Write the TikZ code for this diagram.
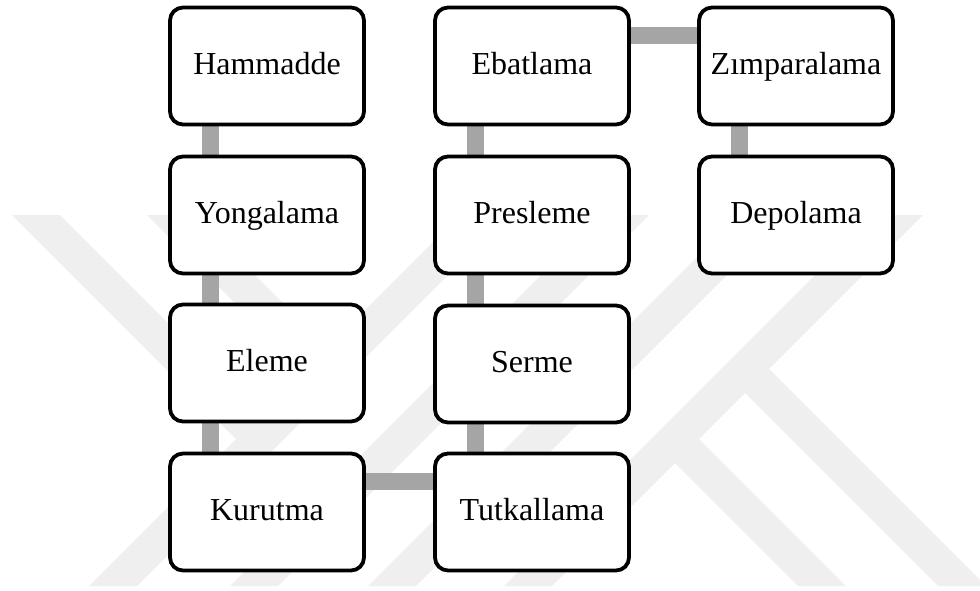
\documentclass[tikz,border=0pt]{standalone}
\usepackage{fontspec}
\setmainfont{Liberation Serif}
\definecolor{linkgray}{HTML}{A5A5A5}
\definecolor{markgray}{HTML}{EFEFEF}
\pgfdeclarelayer{mark}
\pgfdeclarelayer{links}
\pgfsetlayers{mark,links,main}
\begin{document}
\begin{tikzpicture}[x=1pt,y=-1pt,
  stage/.style={draw=black, line width=3.8pt, rounded corners=13pt, fill=white,
    minimum width=194pt, minimum height=117pt, inner sep=0pt,
    text height=23pt, text depth=7pt, font=\fontsize{32}{37}\selectfont},
  link/.style={draw=linkgray, line width=17pt},
  band/.style={fill=markgray, draw=none}]
\useasboundingbox (0,0) rectangle (980,590);

% process stages
\node[stage] (ham) at (267,66)  {Hammadde};
\node[stage] (yon) at (267,215) {Yongalama};
\node[stage] (ele) at (267,363) {Eleme};
\node[stage] (kur) at (267,512) {Kurutma};
\node[stage] (tut) at (532,512) {Tutkallama};
\node[stage] (ser) at (532,364) {Serme};
\node[stage] (pre) at (532,215) {Presleme};
\node[stage] (eba) at (532,66)  {Ebatlama};
\node[stage] (zim) at (796,66)  {Zımparalama};
\node[stage] (dep) at (796,215) {Depolama};

% grey links between consecutive stages
\begin{pgfonlayer}{links}
  \draw[link] ([xshift=42pt]ham.south west) -- ([xshift=42pt]yon.north west);
  \draw[link] ([xshift=42pt]yon.south west) -- ([xshift=42pt]ele.north west);
  \draw[link] ([xshift=42pt]ele.south west) -- ([xshift=42pt]kur.north west);
  \draw[link] ([yshift=-30pt]kur.north east) -- ([yshift=-30pt]tut.north west);
  \draw[link] ([xshift=42pt]tut.north west) -- ([xshift=42pt]ser.south west);
  \draw[link] ([xshift=42pt]ser.north west) -- ([xshift=42pt]pre.south west);
  \draw[link] ([xshift=42pt]pre.north west) -- ([xshift=42pt]eba.south west);
  \draw[link] ([yshift=-30pt]eba.north east) -- ([yshift=-30pt]zim.north west);
  \draw[link] ([xshift=42pt]zim.south west) -- ([xshift=42pt]dep.north west);
\end{pgfonlayer}

% faint logo in the background
\begin{pgfonlayer}{mark}
  \begin{scope}
    \clip (0,0) rectangle (980,590);
    \fill[band] (12,215) -- (60,215) -- (260,415) -- (236,439) -- cycle;
    \fill[band] (147,215) -- (195,215) -- (327.5,347.5) -- (303.5,371.5) -- cycle;
    \fill[band] (460,215) -- (508,215) -- (137,586) -- (89,586) -- cycle;
    \fill[band] (601,215) -- (649,215) -- (278,586) -- (230,586) -- cycle;
    \fill[band] (739,215) -- (787,215) -- (416,586) -- (368,586) -- cycle;
    \fill[band] (875,215) -- (923,215) -- (552,586) -- (504,586) -- cycle;
    \fill[band] (769,369) -- (986,586) -- (938,586) -- (745,393) -- cycle;
    \fill[band] (699,439) -- (846,586) -- (798,586) -- (675,463) -- cycle;
  \end{scope}
\end{pgfonlayer}
\end{tikzpicture}
\end{document}
